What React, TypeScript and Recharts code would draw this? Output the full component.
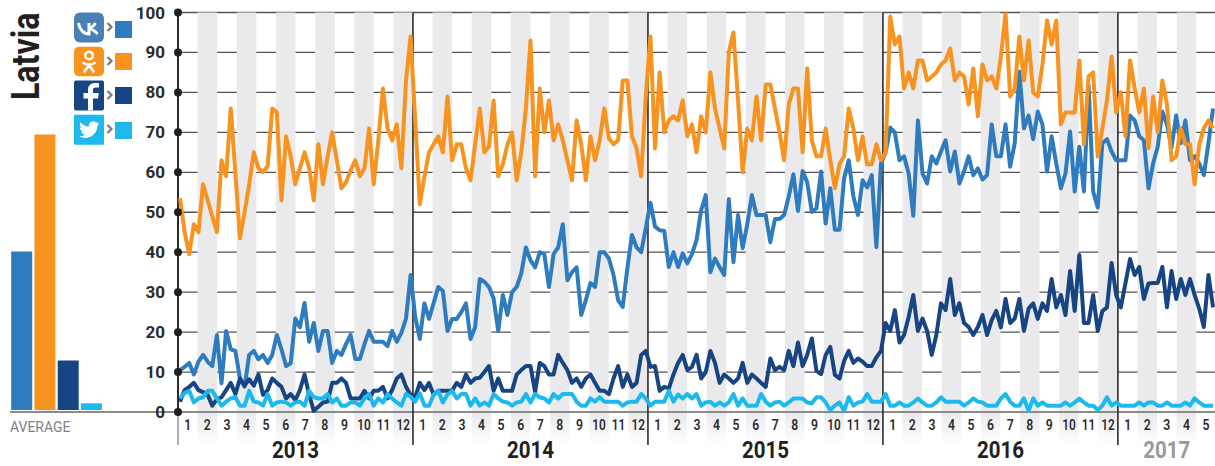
import React from "react";
import {
  BarChart, Bar, Cell, ComposedChart, Line, XAxis, YAxis, CartesianGrid, ReferenceArea, ReferenceLine,
} from "recharts";

const VK_COLOR = "#2f7bbf";
const OK_COLOR = "#f7931e";
const FB_COLOR = "#174584";
const TW_COLOR = "#1cb9ee";

// weekly share, Jan 2013 .. May 2017
const VK = [
  10.5, 11.3, 12.3, 9.4, 12.6, 14.3, 12.6, 11.5, 19.3, 7.2,
  20.3, 15.7, 15.3, 8.4, 6.3, 14.3, 15.3, 13.2, 14.3, 12.3,
  14.3, 19.3, 15.7, 11.5, 12.2, 23.4, 21.2, 27.3, 17.6, 22.3,
  15.3, 20.3, 20.3, 12.3, 15.3, 14.3, 17, 19.3, 13.3, 13.3,
  17, 20.3, 17.6, 17.6, 17.6, 16.5, 20.3, 17.6, 19.8, 23.4,
  34.3, 23.8, 18.3, 27.2, 23.3, 27.3, 31.3, 30.3, 20.3, 23.3,
  23.3, 25, 27.2, 18.3, 21.3, 33.3, 32.6, 31.3, 28.4, 20.3,
  29.3, 24.3, 30, 31.3, 34.7, 41.2, 38, 36.2, 40, 39.5,
  31.3, 39.5, 41.2, 47, 33, 35, 36.2, 24.3, 28, 32.3,
  31.3, 40, 40, 38.4, 34.3, 28, 26.3, 36, 44.3, 41.2,
  40, 46, 52.4, 46.4, 45.5, 45.3, 36.3, 40, 36.3, 39.7,
  37.2, 39.5, 43, 50.5, 54.3, 35, 38.4, 36.3, 34.3, 53.3,
  37.5, 49.3, 41, 47, 54.3, 49.3, 49.3, 49.3, 42.5, 48.3,
  48.3, 49.3, 54, 59.5, 50.3, 60.3, 57.5, 50.1, 51, 60.2,
  47.2, 56, 45.6, 45.6, 58.5, 63, 54, 49.3, 58, 56.2,
  59.3, 41.3, 62.2, 65, 71.2, 70, 63, 64, 59.7, 49.1,
  73, 59.7, 57.2, 64, 62.2, 65.2, 68, 60.2, 65.2, 57.2,
  60.2, 64, 59.3, 61, 58.2, 59.3, 72, 64, 64, 72,
  61.4, 67.3, 85.2, 71, 74.2, 68.3, 75.2, 72, 60.2, 69,
  62.2, 56, 59.7, 70.2, 55.2, 66.4, 55.2, 81.9, 55.2, 51.2,
  67.3, 68.3, 65.2, 63, 63, 63, 74.2, 73, 69, 68,
  56, 62.2, 66.4, 75.2, 72, 66.2, 74.2, 67.3, 73, 63,
  64, 62.2, 59.3, 67.3, 76,
];
const OK = [
  53.5, 45, 39.5, 47, 45, 57, 53, 49, 45, 63,
  59, 76, 60, 43.5, 50, 57, 65, 61, 60, 61.5,
  76, 75, 53, 69, 64, 57, 61, 65, 61, 53,
  67, 57, 64, 70, 63, 56, 57.5, 60.5, 63, 59,
  61, 71, 57, 68, 81, 71, 68, 72, 61, 83,
  94, 73, 52, 59, 65, 67, 69, 65, 79, 63,
  67, 67, 61, 58, 67, 76, 65, 66.5, 78, 59,
  62, 67, 70, 58, 65, 76, 93, 59, 81, 70,
  78, 68, 72, 68, 63, 58, 73, 67, 58, 69,
  63, 68, 76, 68.5, 67, 68, 83, 83, 69, 66,
  59, 79, 94, 66, 85, 70, 73, 74, 73, 78,
  69, 72, 65, 74, 70, 85, 76, 71, 66, 90,
  95, 78, 60, 71, 68, 79, 68, 82, 82, 76,
  70, 63, 77, 81, 81, 65, 86, 68, 64, 64,
  71, 63, 56, 62, 64, 76, 71, 63, 69, 62,
  62, 67, 63, 65, 99, 92, 94, 81, 85, 81,
  88, 88, 83, 84, 85, 87, 88, 91, 83, 85,
  84, 77, 86, 74, 87, 83, 84, 81, 89, 100,
  79, 81, 94, 83, 93, 80, 79, 87, 98, 92,
  98, 72, 75, 75, 75, 88, 67, 84, 85, 64,
  71, 78, 89, 75, 80, 69, 88, 81, 75, 81,
  66, 79, 70, 83, 77, 63, 64, 71, 67, 67,
  57, 67, 71, 73, 71,
];
const FB = [
  2.6, 5.5, 6.3, 7.3, 5.5, 5, 4.3, 1.6, 3.2, 3.7,
  5.5, 7.3, 4.5, 8.4, 6.6, 8.2, 6.6, 9.4, 4.3, 5.5,
  8.4, 7.3, 6.3, 3.4, 4.5, 3, 5.5, 9.4, 4.3, 0.3,
  1.3, 2.4, 2.6, 7.3, 7.3, 8.4, 7.3, 3.4, 3.4, 3.4,
  5.3, 3.4, 5.3, 5.3, 6.3, 3.4, 5.5, 8.4, 9.4, 6.3,
  4.3, 3.8, 7.3, 5.5, 7.3, 4.3, 5.3, 5.3, 5.3, 5.3,
  7.3, 6.3, 9.4, 7.3, 8.4, 8.6, 10, 11.5, 5.3, 8.4,
  5.3, 5.3, 5.3, 9.4, 10.5, 11.5, 11.5, 5, 12.3, 11.5,
  9.4, 9.4, 14.3, 12.3, 10.5, 7.3, 8.4, 6.3, 8.4, 9.4,
  7.3, 5.3, 5.3, 4.5, 8.4, 11.5, 6.3, 9.4, 6.3, 7.3,
  14.3, 15.3, 11.3, 11.5, 5.3, 6.3, 5.9, 9.4, 12.3, 14.3,
  10.5, 11.3, 14.3, 8.4, 10, 15.3, 12.3, 7.3, 9.4, 8.4,
  7.3, 8.4, 12.3, 7.3, 9.4, 8.4, 7.3, 6.3, 13.4, 10.5,
  11.3, 10.5, 15.3, 11.5, 17.4, 11.5, 14.3, 18.4, 10.3, 9.5,
  14.3, 16.3, 9.3, 8.4, 12.8, 15.3, 12.3, 13.4, 12.6, 11.5,
  11.5, 13.7, 15.3, 22.3, 20.3, 25.5, 17.4, 19.3, 23.8, 29.3,
  20.3, 23.4, 20.3, 14.3, 19.3, 27.2, 25.5, 33.3, 24.3, 27.2,
  22.3, 21.3, 19.3, 21.3, 24.3, 19.3, 23, 25.3, 21.2, 28.3,
  22.3, 23.4, 28.3, 20.3, 25.9, 27.2, 23.3, 27.2, 25.3, 33.3,
  26.2, 29.3, 24.3, 35.3, 25.3, 39.3, 22.3, 22.3, 29.3, 20.3,
  25.3, 26.2, 37.3, 29.3, 26.2, 32.2, 38.3, 34.3, 36.3, 28.3,
  32.2, 32.3, 32.3, 36.3, 26.2, 35.3, 28.3, 33.3, 29.3, 33.3,
  29.3, 25.9, 21.3, 34.3, 26.2,
];
const TW = [
  3.4, 4.8, 5.3, 2.4, 3.4, 3.7, 5.3, 5.3, 3.4, 1.6,
  2.6, 3.4, 3.7, 1.6, 1.6, 5.3, 2.6, 2.4, 1.6, 4.5,
  1.6, 2.4, 2.6, 2.4, 1.6, 2.4, 2.6, 1.6, 5.3, 3.7,
  3.4, 3.4, 4.5, 2.4, 3.4, 1.6, 1.6, 2.4, 2.4, 1.6,
  3.4, 4.5, 1.6, 3.4, 2.4, 4.5, 3.4, 2.4, 1.6, 4.5,
  3.8, 2.6, 4.7, 1.6, 1.6, 4.4, 5.3, 2.4, 4.4, 5.3,
  3.4, 4.5, 4.5, 1.6, 3.4, 1.6, 2.4, 1.6, 4.5, 3.4,
  2.6, 2.4, 1.6, 2.4, 2.6, 4.5, 2.4, 4.5, 3.7, 3.4,
  2.4, 4.5, 3.4, 4.5, 4.5, 4.5, 2.6, 1.6, 1.6, 3.4,
  2.6, 3.7, 2.6, 2.6, 2.6, 2.6, 1.6, 2.4, 2.6, 2.6,
  4.5, 3.4, 1.6, 2.6, 2.6, 2.6, 5.3, 2.6, 4.4, 3.4,
  4.5, 3.4, 4.5, 1.6, 2.4, 2.6, 1.6, 2.4, 1.6, 2.4,
  4.5, 1.6, 3.4, 1.6, 1.6, 1.6, 4.5, 2.6, 1.6, 2.4,
  2.6, 1.6, 2.4, 3.4, 3.4, 3.4, 2.4, 2.2, 3.7, 3.7,
  2.4, 0.5, 1.6, 2.4, 0.3, 3.7, 1.6, 2.4, 2.6, 4.5,
  2.6, 2.6, 2.6, 4.5, 1.6, 1.6, 2.4, 1.6, 1.6, 2.4,
  3.4, 2.4, 1.6, 1.6, 2.4, 3.7, 2.6, 2.6, 2.6, 2.6,
  1.6, 2.4, 3.4, 2.6, 2.4, 1.6, 1.6, 1.6, 3.4, 4.5,
  2.6, 1.6, 1.6, 3.4, 0.3, 3.4, 1.6, 2.4, 1.6, 1.6,
  1.6, 1.6, 2.4, 1.6, 2.4, 3.4, 2.4, 1.6, 1.6, 0.5,
  1.6, 3.7, 1.6, 2.4, 1.6, 1.6, 1.6, 1.6, 2.4, 1.6,
  2.4, 2.4, 1.6, 1.6, 2.4, 1.6, 1.6, 1.6, 2.4, 1.6,
  3.4, 2.4, 1.6, 1.6, 1.6,
];

const AVG_NAMES = ["VK", "OK", "Facebook", "Twitter"];
const AVG_VALUES = [39.8, 69.1, 12.5, 1.8];
const AVG_COLORS = [VK_COLOR, OK_COLOR, FB_COLOR, TW_COLOR];

const YEARS = ["2013", "2014", "2015", "2016", "2017"];
const MONTHS_PER_YEAR = [12, 12, 12, 12, 5];
const Y_TICKS = [0, 10, 20, 30, 40, 50, 60, 70, 80, 90, 100];

// the x axis runs in data points, the plot is a little under 51 of them per year
const X_MIN = -0.434;
const X_MAX = 224.42;
const YEAR_SPAN = 50.95;
const MONTH_SPAN = YEAR_SPAN / 12;
const Y_MIN = -8.25;

const data = VK.map((v, i) => ({ week: i, vk: v, ok: OK[i], fb: FB[i], tw: TW[i] }));

const monthTicks: number[] = [];
const monthLabels: number[] = [];
const stripes: [number, number][] = [];
MONTHS_PER_YEAR.forEach((count, y) => {
  for (let m = 0; m < count; m++) {
    const start = X_MIN + y * YEAR_SPAN + m * MONTH_SPAN;
    monthTicks.push(start + MONTH_SPAN / 2);
    monthLabels.push(m + 1);
    if (m % 2 === 1) stripes.push([start, start + MONTH_SPAN]);
  }
});
const yearStarts = YEARS.map((_, y) => X_MIN + y * YEAR_SPAN);
const yearTicks = YEARS.map((_, y) => yearStarts[y] + (MONTHS_PER_YEAR[y] * MONTH_SPAN) / 2);

const FONT = "Roboto, sans-serif";

const ValueTick = ({ y, payload }: any) => (
  <g>
    <text x={165} y={y + 6} textAnchor="end" fontFamily={FONT} fontWeight={700} fontSize={17} fill="#2b2b2b">
      {payload.value}
    </text>
    <circle cx={178} cy={y} r={4} fill="#231f20" />
  </g>
);

const MonthTick = ({ x, payload, index }: any) => {
  const label = monthLabels[index ?? payload.index];
  return (
    <text x={x} y={430} textAnchor="middle" fontFamily={FONT} fontWeight={600} fontSize={14}
      textLength={label > 9 ? 13.5 : 7} lengthAdjust="spacingAndGlyphs" fill="#2b2b2b">
      {label}
    </text>
  );
};

const YearTick = ({ x, payload, index }: any) => {
  const i = index ?? payload.index;
  return (
    <text x={x} y={458} textAnchor="middle" fontFamily={FONT} fontWeight={700} fontSize={23}
      textLength={47} lengthAdjust="spacingAndGlyphs" fill={i === 4 ? "#9a9a9a" : "#231f20"}>
      {YEARS[i]}
    </text>
  );
};

const Icons = () => (
  <svg width={150} height={150} style={{ position: "absolute", left: 0, top: 0 }}>
    <text transform="translate(38.5 100) rotate(-90) scale(0.845 1)" fontFamily={FONT} fontWeight={700} fontSize={38} fill="#231f20">Latvia</text>

    <rect x={74} y={12.5} width={30} height={30} rx={6} fill="#4c7fb5" />
    <path d="M78.5 23 C79.5 30 84 34 89 34 V23 M89 28.5 C92 28 94 25.5 95.5 23 M89 28.5 C92 29 95 31 97.5 34" fill="none" stroke="#fff" strokeWidth={3} />

    <rect x={74} y={46.7} width={30} height={29.5} rx={5} fill={OK_COLOR} />
    <circle cx={89} cy={55.5} r={3.8} fill="none" stroke="#fff" strokeWidth={2.4} />
    <path d="M83.5 63 C86 65 92 65 94.5 63 M89 65 L84.5 71.5 M89 65 L93.5 71.5" fill="none" stroke="#fff" strokeWidth={2.6} strokeLinecap="round" />

    <rect x={74} y={80.5} width={30} height={30} rx={2} fill={FB_COLOR} />
    <path d="M93 110.5 V98.5 H98 L98.8 93 H93 V90 C93 88.5 93.5 87.6 95.5 87.6 H99 V83.2 C98.3 83.1 97 83 95 83 C91 83 88 85.4 88 89.6 V93 H83.5 V98.5 H88 V110.5 Z" fill="#fff" />

    <rect x={74} y={114.7} width={30} height={30} rx={1} fill={TW_COLOR} />
    <g transform="translate(79 119.5) scale(0.85)">
      <path fill="#fff" d="M23.953 4.57a10 10 0 01-2.825.775 4.958 4.958 0 002.163-2.723c-.951.555-2.005.959-3.127 1.184a4.92 4.92 0 00-8.384 4.482C7.69 8.095 4.067 6.13 1.64 3.162a4.822 4.822 0 00-.666 2.475c0 1.71.87 3.213 2.188 4.096a4.904 4.904 0 01-2.228-.616v.06a4.923 4.923 0 003.946 4.827 4.996 4.996 0 01-2.212.085 4.936 4.936 0 004.604 3.417 9.867 9.867 0 01-6.102 2.105c-.39 0-.779-.023-1.17-.067a13.995 13.995 0 007.557 2.209c9.053 0 13.998-7.496 13.998-13.985 0-.21 0-.42-.015-.63A9.935 9.935 0 0024 4.59z" />
    </g>

    {[27, 61, 95, 129].map((cy) => (
      <path key={cy} d={`M107.5 ${cy - 4} L111.5 ${cy} L107.5 ${cy + 4}`} fill="none" stroke="#77787b" strokeWidth={2.2} />
    ))}
    <rect x={115} y={21} width={17} height={17} fill={VK_COLOR} />
    <rect x={115} y={53} width={17} height={17} fill={OK_COLOR} />
    <rect x={115} y={87} width={17} height={17} fill={FB_COLOR} />
    <rect x={115} y={122} width={17} height={17} fill={TW_COLOR} />
  </svg>
);

const App = () => {
  const avgData = AVG_NAMES.map((name, i) => ({ name, value: AVG_VALUES[i] }));

  return (
    <div style={{ position: "absolute", left: 0, top: 0, width: 1215, height: 466, background: "#fff", overflow: "hidden" }}>
      <Icons />

      {/* average bars on the left, same vertical scale as the main plot */}
      <div style={{ position: "absolute", left: 10, top: 10.5 }}>
        <BarChart width={93} height={399.5} data={avgData} margin={{ top: 0, right: 0, bottom: 0, left: 0 }} barCategoryGap={1.2}>
          <XAxis dataKey="name" hide />
          <YAxis domain={[0, 100]} hide />
          <Bar dataKey="value" isAnimationActive={false}>
            {AVG_COLORS.map((c) => <Cell key={c} fill={c} />)}
          </Bar>
        </BarChart>
      </div>
      <div style={{ position: "absolute", left: 10, top: 411, width: 168, height: 2, background: "#8a8a8a" }} />
      <div style={{ position: "absolute", left: 9.5, top: 419, fontFamily: FONT, fontSize: 15.5, color: "#808285", lineHeight: "16px", transform: "scaleX(0.9)", transformOrigin: "left" }}>AVERAGE</div>

      <div style={{ position: "absolute", left: 0, top: 0 }}>
        <ComposedChart width={1215} height={466} data={data} margin={{ top: 12.5, right: 0, bottom: 19, left: 0 }}>
          <defs>
            <linearGradient id="stripeFill" x1="0" y1="0" x2="0" y2="1">
              <stop offset="0.925" stopColor="#eaeaed" />
              <stop offset="1" stopColor="#ffffff" />
            </linearGradient>
          </defs>
          <XAxis xAxisId="month" dataKey="week" type="number" domain={[X_MIN, X_MAX]} ticks={monthTicks} interval={0}
            height={1} axisLine={false} tickLine={false} tick={<MonthTick />} allowDataOverflow />
          <XAxis xAxisId="year" dataKey="week" type="number" domain={[X_MIN, X_MAX]} ticks={yearTicks} interval={0}
            height={1} axisLine={false} tickLine={false} tick={<YearTick />} allowDataOverflow />
          <YAxis yAxisId="v" type="number" domain={[Y_MIN, 100]} ticks={Y_TICKS} interval={0} width={178}
            axisLine={false} tickLine={false} tick={<ValueTick />} allowDataOverflow />

          {stripes.map(([a, b]) => (
            <ReferenceArea key={a} xAxisId="month" yAxisId="v" x1={a} x2={b} fill="url(#stripeFill)" fillOpacity={1} stroke="none" />
          ))}
          <CartesianGrid xAxisId="month" yAxisId="v" vertical={false} stroke="#555" strokeWidth={1.3} horizontalValues={Y_TICKS} />
          <ReferenceLine xAxisId="month" yAxisId="v" y={0} stroke="#8a8a8a" strokeWidth={2} />
          {yearStarts.slice(1).map((x) => (
            <ReferenceLine key={x} xAxisId="month" yAxisId="v" x={x} stroke="#2b2b2b" strokeWidth={1.6} />
          ))}
          <ReferenceLine xAxisId="month" yAxisId="v" segment={[{ x: X_MIN, y: 0 }, { x: X_MIN, y: 100 }]} stroke="#2b2b2b" strokeWidth={2} />
          <ReferenceLine xAxisId="month" yAxisId="v" segment={[{ x: X_MIN, y: Y_MIN }, { x: X_MIN, y: 0 }]} stroke="#77787b" strokeWidth={1.2} />

          <Line xAxisId="month" yAxisId="v" dataKey="vk" stroke={VK_COLOR} strokeWidth={4} dot={false} strokeLinejoin="round" isAnimationActive={false} />
          <Line xAxisId="month" yAxisId="v" dataKey="ok" stroke={OK_COLOR} strokeWidth={4} dot={false} strokeLinejoin="round" isAnimationActive={false} />
          <Line xAxisId="month" yAxisId="v" dataKey="fb" stroke={FB_COLOR} strokeWidth={4} dot={false} strokeLinejoin="round" isAnimationActive={false} />
          <Line xAxisId="month" yAxisId="v" dataKey="tw" stroke={TW_COLOR} strokeWidth={4} dot={false} strokeLinejoin="round" isAnimationActive={false} />
        </ComposedChart>
      </div>
    </div>
  );
};

export default App;
